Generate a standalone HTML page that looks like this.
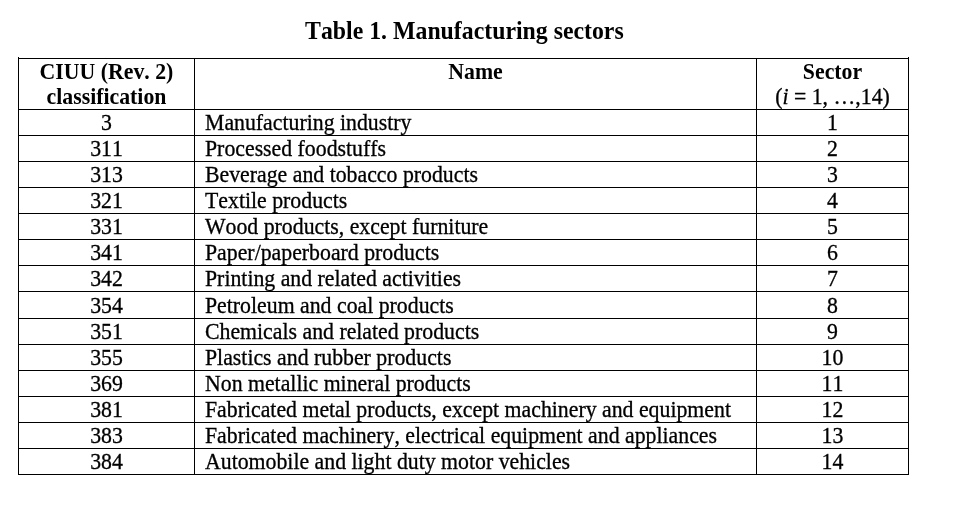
<!DOCTYPE html>
<html lang="en"><head><meta charset="utf-8"><title>Table 1. Manufacturing sectors</title>
<style>
html,body{margin:0;padding:0;background:#fff;}
body{width:963px;height:508px;position:relative;overflow:hidden;font-family:"Liberation Serif",serif;color:#000;font-kerning:none;font-variant-ligatures:none;}
h1.cap{position:absolute;margin:0;left:18.9px;width:891px;top:16.97px;transform:scaleY(1.02);transform-origin:50% 22.03px;text-align:center;font-weight:bold;font-size:23.8px;line-height:28px;white-space:nowrap;}
figure{position:absolute;margin:0;left:18px;top:58px;width:891px;}
table{width:891px;margin:0;border-collapse:collapse;table-layout:fixed;font-size:21.8px;line-height:26px;}
figure::before,figure::after{content:"";position:absolute;top:-1px;width:1px;height:1px;background:#000;}
figure::before{left:0;}
figure::after{right:0;}
td,th{border:1px solid #000;padding:0;margin:0;vertical-align:top;white-space:nowrap;overflow:visible;font-weight:normal;}
tr.tall td{height:26px;}
td span,th span{display:block;height:25px;position:relative;top:-0.35px;transform:scaleY(1.03);transform-origin:50% 20.35px;-webkit-text-stroke:0.3px #000;}
tr.tall span{top:0.65px;}
th span.b{font-weight:bold;transform:scaleY(1.02);-webkit-text-stroke:0;}
.c1,.c3{text-align:center;}
.c2{text-align:left;}
td.c2 span{padding-left:10px;}
</style></head><body>
<h1 class="cap">Table 1. Manufacturing sectors</h1>
<figure>
<table>
<colgroup><col style="width:176px"><col style="width:562px"><col style="width:152px"></colgroup>
<thead>
<tr class="hd"><th class="c1"><span class="b">CIUU (Rev. 2)</span><span class="b l2">classification</span></th><th class="c1"><span class="b">Name</span></th><th class="c3"><span class="b">Sector</span><span class="l2">(<i>i</i> = 1, …,14)</span></th></tr>
</thead>
<tbody>
<tr><td class="c1"><span>3</span></td><td class="c2"><span>Manufacturing industry</span></td><td class="c3"><span>1</span></td></tr>
<tr><td class="c1"><span>311</span></td><td class="c2"><span>Processed foodstuffs</span></td><td class="c3"><span>2</span></td></tr>
<tr><td class="c1"><span>313</span></td><td class="c2"><span>Beverage and tobacco products</span></td><td class="c3"><span>3</span></td></tr>
<tr><td class="c1"><span>321</span></td><td class="c2"><span>Textile products</span></td><td class="c3"><span>4</span></td></tr>
<tr><td class="c1"><span>331</span></td><td class="c2"><span>Wood products, except furniture</span></td><td class="c3"><span>5</span></td></tr>
<tr><td class="c1"><span>341</span></td><td class="c2"><span>Paper/paperboard products</span></td><td class="c3"><span>6</span></td></tr>
<tr><td class="c1"><span>342</span></td><td class="c2"><span>Printing and related activities</span></td><td class="c3"><span>7</span></td></tr>
<tr class="tall"><td class="c1"><span>354</span></td><td class="c2"><span>Petroleum and coal products</span></td><td class="c3"><span>8</span></td></tr>
<tr><td class="c1"><span>351</span></td><td class="c2"><span>Chemicals and related products</span></td><td class="c3"><span>9</span></td></tr>
<tr><td class="c1"><span>355</span></td><td class="c2"><span>Plastics and rubber products</span></td><td class="c3"><span>10</span></td></tr>
<tr><td class="c1"><span>369</span></td><td class="c2"><span>Non metallic mineral products</span></td><td class="c3"><span>11</span></td></tr>
<tr><td class="c1"><span>381</span></td><td class="c2"><span>Fabricated metal products, except machinery and equipment</span></td><td class="c3"><span>12</span></td></tr>
<tr><td class="c1"><span>383</span></td><td class="c2"><span>Fabricated machinery, electrical equipment and appliances</span></td><td class="c3"><span>13</span></td></tr>
<tr><td class="c1"><span>384</span></td><td class="c2"><span>Automobile and light duty motor vehicles</span></td><td class="c3"><span>14</span></td></tr>
</tbody></table>
</figure></body></html>
